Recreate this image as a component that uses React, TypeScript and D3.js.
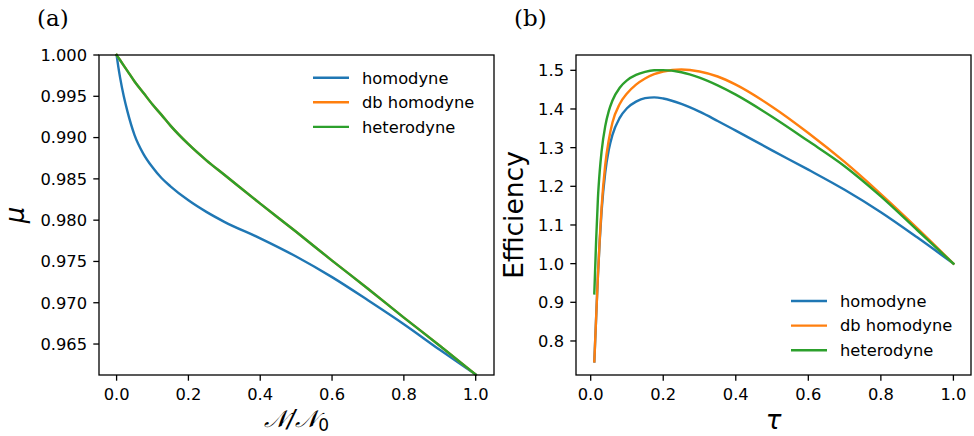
import React from "react";
import * as d3 from "d3";

const W = 974;
const H = 436;

// panel (a): mu vs N/N0
const nRatio = [0, 0.005, 0.01, 0.02, 0.03, 0.05, 0.075, 0.1, 0.125, 0.15, 0.2, 0.25, 0.3, 0.4, 0.5, 0.6, 0.7, 0.8, 0.9, 1.0];
const muHomodyne = [1.0, 0.9985, 0.9972, 0.995, 0.9932, 0.9903, 0.988, 0.9864, 0.9851, 0.9841, 0.9824, 0.981, 0.9798, 0.9778, 0.9756, 0.9731, 0.9703, 0.9674, 0.9643, 0.9613];
const muDbHomodyne = [1.0, 0.99968, 0.99936, 0.99872, 0.99808, 0.9968, 0.9954, 0.994, 0.99275, 0.99145, 0.9892, 0.98725, 0.9855, 0.982, 0.9786, 0.9751, 0.9717, 0.9682, 0.9648, 0.9613];
const muHeterodyne = [1.0, 0.99968, 0.99936, 0.99872, 0.99808, 0.9968, 0.9954, 0.994, 0.99275, 0.99145, 0.9892, 0.98725, 0.9855, 0.982, 0.9786, 0.9751, 0.9717, 0.9682, 0.9648, 0.9613];

// panel (b): efficiency vs tau
const tau = [0.01, 0.015, 0.02, 0.025, 0.03, 0.04, 0.05, 0.06, 0.08, 0.1, 0.125, 0.15, 0.175, 0.2, 0.25, 0.3, 0.35, 0.4, 0.5, 0.6, 0.7, 0.8, 0.9, 1.0];
const effHomodyne = [0.747, 0.86, 0.97, 1.06, 1.135, 1.235, 1.295, 1.333, 1.377, 1.402, 1.419, 1.428, 1.43, 1.427, 1.413, 1.393, 1.369, 1.344, 1.293, 1.243, 1.191, 1.133, 1.068, 1.0];
const effDbHomodyne = [0.747, 0.86, 0.97, 1.065, 1.145, 1.255, 1.32, 1.365, 1.413, 1.44, 1.463, 1.479, 1.49, 1.497, 1.502, 1.497, 1.484, 1.463, 1.406, 1.338, 1.263, 1.18, 1.092, 1.0];
const effHeterodyne = [0.923, 1.06, 1.17, 1.24, 1.29, 1.355, 1.395, 1.422, 1.455, 1.474, 1.488, 1.496, 1.5, 1.5005, 1.495, 1.481, 1.461, 1.437, 1.38, 1.317, 1.252, 1.174, 1.087, 1.0];

const seriesNames = ["homodyne", "db homodyne", "heterodyne"];
const colors = ["#1f77b4", "#ff7f0e", "#2ca02c"];

const xTicks = [0, 0.2, 0.4, 0.6, 0.8, 1.0];
const muTicks = [0.965, 0.97, 0.975, 0.98, 0.985, 0.99, 0.995, 1.0];
const effTicks = [0.8, 0.9, 1.0, 1.1, 1.2, 1.3, 1.4, 1.5];

const SANS = "DejaVu Sans, sans-serif";

type PanelProps = {
  left: number;
  right: number;
  xDomain: [number, number];
  yDomain: [number, number];
  xs: number[];
  ys: number[][];
  yTicks: number[];
  yFmt: string;
  legendX: number;
  legendY: number;
};

function Panel(p: PanelProps) {
  const top = 55;
  const bottom = 375;
  const x = d3.scaleLinear().domain(p.xDomain).range([p.left, p.right]);
  const y = d3.scaleLinear().domain(p.yDomain).range([bottom, top]);
  const line = d3
    .line<number>()
    .x((_, i) => x(p.xs[i]))
    .y((d) => y(d))
    .curve(d3.curveMonotoneX);
  const fx = d3.format(".1f");
  const fy = d3.format(p.yFmt);
  const tl = 5.7;
  return (
    <g>
      {p.ys.map((s, k) => (
        <path key={k} d={line(s) || ""} fill="none" stroke={colors[k]} strokeWidth={2.4} strokeLinecap="square" />
      ))}
      <rect x={p.left} y={top} width={p.right - p.left} height={bottom - top} fill="none" stroke="#000" strokeWidth={1.3} />
      {xTicks.map((t) => (
        <g key={t}>
          <line x1={x(t)} x2={x(t)} y1={bottom} y2={bottom + tl} stroke="#000" strokeWidth={1.3} />
          <text x={x(t)} y={399.5} textAnchor="middle" fontFamily={SANS} fontSize={16.3} fill="#000">
            {fx(t)}
          </text>
        </g>
      ))}
      {p.yTicks.map((t) => (
        <g key={t}>
          <line x1={p.left - tl} x2={p.left} y1={y(t)} y2={y(t)} stroke="#000" strokeWidth={1.3} />
          <text x={p.left - 12} y={y(t)} dy="0.36em" textAnchor="end" fontFamily={SANS} fontSize={16.3} fill="#000">
            {fy(t)}
          </text>
        </g>
      ))}
      {seriesNames.map((n, k) => (
        <g key={n}>
          <line
            x1={p.legendX}
            x2={p.legendX + 36}
            y1={p.legendY + k * 24.6}
            y2={p.legendY + k * 24.6}
            stroke={colors[k]}
            strokeWidth={2.4}
          />
          <text x={p.legendX + 49} y={p.legendY + k * 24.6} dy="0.36em" fontFamily={SANS} fontSize={16.3} fill="#000">
            {n}
          </text>
        </g>
      ))}
    </g>
  );
}

export default function App() {
  return (
    <svg width={W} height={H} style={{ position: "absolute", left: 0, top: 0, background: "#fff" }}>
      <rect width={W} height={H} fill="#fff" />
      <text x={37} y={26} fontFamily="DejaVu Serif, serif" fontSize={23}>(a)</text>
      <text x={514} y={26} fontFamily="DejaVu Serif, serif" fontSize={23}>(b)</text>
      <Panel
        left={99}
        right={494}
        xDomain={[-0.049, 1.051]}
        yDomain={[0.96125, 1.0]}
        xs={nRatio}
        ys={[muHomodyne, muDbHomodyne, muHeterodyne]}
        yTicks={muTicks}
        yFmt=".3f"
        legendX={313}
        legendY={77.7}
      />
      <Panel
        left={576}
        right={971}
        xDomain={[-0.0405, 1.0485]}
        yDomain={[0.712, 1.5396]}
        xs={tau}
        ys={[effHomodyne, effDbHomodyne, effHeterodyne]}
        yTicks={effTicks}
        yFmt=".1f"
        legendX={791}
        legendY={301}
      />
      <text transform="translate(24,215) rotate(-90)" textAnchor="middle" fontFamily={SANS} fontStyle="italic" fontSize={26}>
        μ
      </text>
      <text transform="translate(523,215) rotate(-90)" textAnchor="middle" fontFamily={SANS} fontSize={26.5}>
        Efficiency
      </text>
      <text x={296.5} y={427} textAnchor="middle" fontFamily="DejaVu Sans, DejaVu Serif, serif" fontSize={24}>
        <tspan fontStyle="italic">𝒩/𝒩</tspan>
        <tspan fontSize={17} dy={4}>0</tspan>
      </text>
      <text x={773.5} y={429} textAnchor="middle" fontFamily={SANS} fontStyle="italic" fontSize={26}>
        τ
      </text>
    </svg>
  );
}
